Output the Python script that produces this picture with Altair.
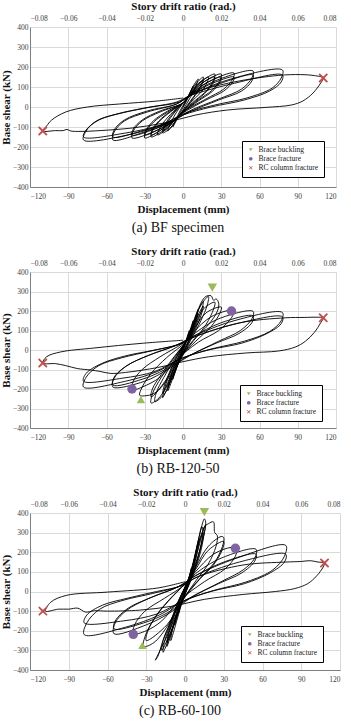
import altair as alt
import pandas as pd

# ---------------- data (displacement mm, base shear kN) -------------
a_cycles = [
    [(0, 0), (3, 40), (6, 80), (8, 105), (7, 90), (5, 60), (2, 20), (-2, -25), (-5, -65), (-8, -100), (-7, -85), (-5, -55), (-2, -15), (2, 30)],
    [(5, 65), (9, 115), (12, 140), (11, 120), (9, 85), (5, 40), (0, -15), (-5, -60), (-9, -100), (-12, -120), (-11, -100), (-9, -70), (-5, -25), (0, 20)],
    [(5, 60), (10, 115), (16, 150), (15, 125), (12, 85), (7, 40), (0, -20), (-5, -60), (-10, -105), (-16, -130), (-15, -110), (-12, -75), (-7, -30), (0, 20)],
    [(5, 55), (10, 105), (16, 135), (15, 115), (12, 80), (7, 35), (0, -25), (-6, -60), (-11, -100), (-16, -120), (-15, -100), (-12, -65), (-7, -25), (0, 20)],
    [(5, 55), (12, 115), (20, 150), (19, 125), (15, 80), (8, 35), (0, -20), (-6, -60), (-12, -105), (-20, -140), (-19, -115), (-15, -75), (-8, -25), (0, 20)],
    [(5, 55), (14, 125), (25, 165), (24, 135), (19, 85), (10, 35), (0, -20), (-6, -60), (-14, -110), (-25, -150), (-24, -120), (-19, -75), (-10, -25), (0, 20)],
    [(5, 55), (14, 115), (25, 150), (24, 125), (19, 80), (10, 30), (0, -25), (-7, -65), (-15, -105), (-25, -140), (-24, -112), (-19, -70), (-10, -22), (0, 20)],
    [(5, 55), (15, 120), (30, 165), (29, 135), (23, 85), (12, 35), (0, -25), (-6, -60), (-16, -110), (-30, -155), (-29, -125), (-23, -75), (-12, -25), (0, 20)],
    [(5, 55), (16, 110), (30, 150), (29, 125), (23, 78), (12, 30), (0, -28), (-7, -65), (-17, -105), (-30, -140), (-29, -115), (-23, -68), (-12, -20), (0, 20)],
    [(5, 55), (18, 120), (40, 170), (39, 140), (32, 90), (18, 40), (0, -25), (-6, -65), (-20, -115), (-40, -155), (-39, -120), (-32, -70), (-18, -25), (0, 20)],
    [(5, 55), (20, 110), (40, 150), (39, 125), (32, 80), (18, 35), (0, -30), (-8, -70), (-22, -110), (-40, -140), (-39, -110), (-32, -65), (-18, -20), (0, 20)],
    [(5, 55), (25, 130), (55, 180), (54, 145), (46, 90), (28, 40), (5, -20), (-8, -70), (-28, -120), (-55, -165), (-54, -125), (-46, -70), (-28, -25), (-5, 15)],
    [(5, 55), (28, 115), (55, 160), (54, 130), (46, 80), (28, 35), (5, -25), (-10, -75), (-30, -115), (-55, -150), (-54, -115), (-46, -65), (-28, -20), (-5, 15)],
    [(5, 55), (35, 135), (78, 185), (77, 145), (70, 95), (50, 45), (25, 10), (0, -35), (-15, -85), (-40, -135), (-78, -165), (-76, -120), (-68, -70), (-52, -35), (-30, -5), (-5, 25)],
    [(5, 55), (38, 115), (78, 160), (77, 125), (68, 80), (48, 35), (22, 0), (0, -40), (-18, -90), (-45, -130), (-78, -150), (-76, -115), (-66, -65), (-48, -30), (-25, 0), (-3, 25)],
    [(8, 70), (40, 125), (75, 158), (92, 162), (103, 157), (110, 145), (108, 120), (102, 70), (94, 30), (85, 10), (65, -2), (35, -15), (10, -40), (-15, -80), (-40, -105), (-65, -118), (-80, -122), (-88, -120), (-91, -112), (-94, -118), (-100, -118), (-110, -120), (-107, -95), (-103, -65), (-92, -25), (-75, 0), (-50, 15), (-20, 30), (0, 45)],
]

b_cycles = [
    [(0, 0), (3, 60), (5, 100), (4, 80), (2, 40), (-2, -30), (-5, -90), (-4, -70), (-2, -30), (2, 30)],
    [(5, 90), (8, 150), (7, 125), (4, 70), (0, 0), (-4, -70), (-8, -150), (-7, -120), (-4, -60), (0, 10)],
    [(5, 80), (9, 160), (12, 210), (11, 180), (8, 110), (3, 30), (-2, -40), (-6, -110), (-12, -210), (-11, -175), (-8, -110), (-3, -30), (2, 40)],
    [(5, 70), (9, 140), (12, 185), (11, 160), (8, 100), (3, 25), (-2, -40), (-6, -100), (-12, -190), (-11, -160), (-8, -100), (-3, -25), (2, 40)],
    [(6, 100), (11, 190), (16, 250), (15, 215), (11, 140), (5, 50), (-2, -40), (-7, -120), (-16, -245), (-15, -210), (-11, -130), (-5, -40), (2, 40)],
    [(6, 90), (11, 170), (16, 225), (15, 195), (11, 125), (5, 45), (-2, -40), (-7, -110), (-16, -225), (-15, -190), (-11, -120), (-5, -35), (2, 40)],
    [(7, 110), (13, 220), (20, 275), (19, 230), (14, 150), (6, 50), (-2, -50), (-8, -130), (-14, -220), (-22, -265), (-21, -220), (-15, -140), (-6, -40), (2, 40)],
    [(8, 120), (14, 240), (18, 275), (22, 278), (24, 255), (26, 262), (28, 240), (27, 200), (20, 130), (8, 50), (-3, -50), (-10, -140), (-18, -240), (-25, -272), (-24, -225), (-17, -140), (-7, -40), (2, 40)],
    [(8, 110), (16, 210), (25, 245), (24, 210), (18, 130), (8, 45), (-3, -50), (-12, -150), (-25, -240), (-24, -200), (-17, -125), (-7, -35), (2, 40)],
    [(8, 100), (18, 190), (30, 220), (29, 190), (22, 120), (10, 45), (-4, -50), (-12, -140), (-22, -220), (-30, -235), (-34, -232), (-32, -190), (-25, -120), (-13, -40), (2, 40)],
    [(8, 90), (22, 170), (38, 205), (40, 200), (38, 165), (28, 100), (12, 40), (-5, -50), (-18, -140), (-32, -190), (-40, -205), (-39, -160), (-32, -100), (-18, -35), (0, 35)],
    [(8, 80), (28, 160), (55, 198), (54, 160), (45, 100), (28, 45), (5, -30), (-12, -100), (-30, -160), (-55, -190), (-54, -145), (-45, -85), (-28, -30), (-5, 25)],
    [(8, 70), (30, 140), (55, 175), (54, 140), (44, 85), (26, 35), (3, -35), (-14, -100), (-32, -150), (-55, -180), (-54, -140), (-44, -80), (-26, -25), (-5, 25)],
    [(8, 70), (40, 150), (78, 192), (77, 150), (68, 95), (48, 45), (22, 5), (0, -40), (-20, -110), (-45, -160), (-78, -190), (-76, -140), (-66, -80), (-48, -40), (-25, -5), (-3, 30)],
    [(8, 65), (42, 135), (78, 170), (77, 135), (66, 85), (46, 35), (20, 0), (-2, -45), (-22, -110), (-48, -145), (-78, -160), (-76, -120), (-64, -70), (-45, -30), (-22, 0), (-2, 30)],
    [(10, 70), (45, 140), (80, 165), (95, 167), (105, 168), (110, 165), (108, 140), (103, 90), (96, 45), (88, 15), (75, -5), (50, -15), (20, -35), (0, -60), (-20, -90), (-45, -115), (-57, -120), (-65, -110), (-72, -103), (-83, -95), (-92, -80), (-100, -70), (-110, -67), (-107, -35), (-96, -10), (-70, 10), (-31, 35), (0, 50)],
]

c_cycles = [
    [(0, 0), (3, 70), (5, 120), (4, 90), (2, 40), (-2, -40), (-5, -110), (-4, -80), (-2, -30), (2, 40)],
    [(5, 110), (8, 180), (7, 140), (4, 70), (0, 0), (-4, -80), (-8, -170), (-7, -130), (-4, -60), (0, 10)],
    [(5, 100), (8, 190), (11, 270), (10, 220), (7, 130), (3, 40), (-2, -50), (-6, -140), (-11, -250), (-10, -200), (-7, -120), (-3, -30), (2, 50)],
    [(6, 130), (10, 250), (13, 330), (14, 310), (12, 220), (8, 130), (3, 40), (-3, -60), (-8, -160), (-14, -280), (-13, -230), (-9, -140), (-4, -40), (2, 50)],
    [(6, 120), (10, 230), (14, 300), (13, 260), (10, 170), (5, 70), (-3, -60), (-8, -150), (-14, -260), (-13, -215), (-9, -130), (-4, -35), (2, 50)],
    [(6, 140), (11, 280), (15, 370), (16, 355), (14, 270), (9, 160), (3, 50), (-3, -60), (-9, -180), (-17, -310), (-16, -260), (-11, -160), (-5, -50), (2, 50)],
    [(6, 130), (11, 260), (16, 340), (15, 300), (12, 200), (6, 80), (-3, -60), (-10, -190), (-18, -300), (-17, -250), (-11, -150), (-5, -45), (2, 50)],
    [(7, 140), (12, 260), (15, 330), (18, 345), (22, 355), (23, 300), (25, 285), (24, 230), (18, 140), (9, 60), (-3, -60), (-12, -200), (-20, -310), (-23, -350), (-21, -330), (-17, -250), (-10, -140), (-4, -40), (2, 50)],
    [(8, 120), (18, 230), (28, 280), (30, 275), (29, 230), (23, 150), (12, 70), (-3, -50), (-13, -170), (-24, -260), (-32, -280), (-31, -230), (-24, -140), (-13, -50), (0, 40)],
    [(8, 110), (18, 210), (30, 255), (29, 215), (22, 135), (11, 60), (-3, -55), (-14, -170), (-30, -250), (-29, -205), (-22, -120), (-12, -40), (0, 40)],
    [(8, 100), (22, 190), (36, 225), (40, 220), (39, 180), (31, 115), (15, 50), (-5, -50), (-18, -150), (-30, -200), (-40, -215), (-39, -170), (-31, -100), (-16, -35), (0, 35)],
    [(8, 90), (28, 170), (55, 215), (54, 170), (45, 110), (28, 50), (5, -30), (-12, -110), (-30, -170), (-55, -215), (-54, -160), (-45, -95), (-28, -35), (-5, 25)],
    [(8, 80), (30, 150), (55, 190), (54, 155), (44, 95), (26, 40), (3, -35), (-14, -110), (-32, -160), (-55, -190), (-54, -150), (-44, -85), (-26, -30), (-5, 25)],
    [(8, 80), (40, 170), (78, 235), (77, 180), (68, 110), (48, 50), (22, 5), (0, -45), (-20, -120), (-45, -180), (-78, -220), (-76, -160), (-66, -90), (-48, -45), (-25, -10), (-3, 30)],
    [(8, 70), (42, 150), (78, 190), (77, 150), (66, 95), (46, 40), (20, 0), (-2, -50), (-22, -115), (-48, -150), (-78, -160), (-76, -120), (-64, -70), (-45, -35), (-22, 0), (-2, 30)],
    [(10, 75), (45, 135), (78, 150), (90, 153), (97, 157), (103, 150), (108, 145), (107, 125), (102, 80), (95, 40), (85, 15), (70, 0), (45, -15), (15, -40), (-10, -75), (-35, -95), (-60, -100), (-70, -98), (-77, -105), (-83, -85), (-90, -90), (-98, -90), (-108, -100), (-104, -55), (-92, -20), (-60, -3), (-21, 18), (0, 50)],
]

events = ["Brace buckling", "Brace fracture", "RC column fracture"]
event_colors = ["#9bbb59", "#8064a2", "#c0504d"]

a_marks = [("RC column fracture", 110, 145), ("RC column fracture", -110, -120)]
b_marks = [("Brace buckling", 23, 320), ("Brace fracture", 38, 200), ("RC column fracture", 110, 165),
           ("Brace fracture", -40, -200), ("RC column fracture", -110, -67)]
c_marks = [("Brace buckling", 15, 405), ("Brace fracture", 39, 220), ("RC column fracture", 108, 145),
           ("Brace fracture", -40, -218), ("RC column fracture", -110, -100)]
b_up = [(-33, -255)]
c_up = [(-33, -275)]

x_ticks = [-120, -90, -60, -30, 0, 30, 60, 90, 120]
y_ticks = [-400, -300, -200, -100, 0, 100, 200, 300, 400]

SERIF = "Liberation Serif"
X_PATH = "M-0.75,-1L0,-0.3L0.75,-1L1,-0.75L0.3,0L1,0.75L0.75,1L0,0.3L-0.75,1L-1,0.75L-0.3,0L-1,-0.75Z"
FONT_AX = dict(labelFont=SERIF, labelFontSize=7.5, labelColor="#404040", titleFont=SERIF, titleFontSize=11,
               titleFontWeight="bold", titleColor="#111")


def panel(cycles, marks, ups, w, h, caption, lx, ly):
    pts = [p for cyc in cycles for p in cyc]
    df = pd.DataFrame(pts, columns=["x", "y"])
    df["i"] = range(len(df))
    xs = alt.Scale(domain=[-120, 120], nice=False, zero=False)
    ys = alt.Scale(domain=[-400, 400], nice=False)
    yaxis = alt.Axis(values=y_ticks, title="Base shear (kN)", ticks=False, labelPadding=2,
                     titlePadding=1, domainColor="#7f7f7f", gridColor="#d9d9d9", **FONT_AX)
    lines = alt.Chart(df).mark_line(color="black", strokeWidth=0.9, interpolate="catmull-rom").encode(
        x=alt.X("x:Q", scale=xs, axis=alt.Axis(values=x_ticks, title="Displacement (mm)", ticks=False,
                                                labelPadding=5, titlePadding=4, domainColor="#7f7f7f",
                                                gridColor="#d9d9d9", **FONT_AX)),
        y=alt.Y("y:Q", scale=ys, axis=yaxis),
        order="i:Q",
    )
    top = alt.Chart(pd.DataFrame({"x": x_ticks})).mark_point(opacity=0).encode(
        x=alt.X("x:Q", scale=xs, axis=alt.Axis(orient="top", values=x_ticks, title="Story drift ratio (rad.)",
                                                ticks=False, domain=False, grid=False, labelPadding=5,
                                                titlePadding=3,
                                                labelExpr="datum.value == 0 ? '0' : format(datum.value / 1500, '.2f')",
                                                **FONT_AX)),
        y=alt.value(0),
    )
    mdf = pd.DataFrame(marks, columns=["event", "x", "y"])
    leg = alt.Legend(title=None, orient="none", legendX=lx, legendY=ly, strokeColor="black",
                     fillColor="white", padding=5, labelFont=SERIF, labelFontSize=7.5, labelColor="#222",
                     symbolSize=14, rowPadding=0, labelLimit=200)
    pmarks = alt.Chart(mdf).mark_point(filled=True, opacity=1, size=90).encode(
        x=alt.X("x:Q", scale=xs, axis=None),
        y=alt.Y("y:Q", scale=ys, axis=yaxis),
        color=alt.Color("event:N", scale=alt.Scale(domain=events, range=event_colors), legend=leg),
        shape=alt.Shape("event:N", scale=alt.Scale(domain=events, range=["triangle-down", "circle", X_PATH]),
                        legend=leg),
    )
    layers = [lines, top, pmarks]
    if ups:
        udf = pd.DataFrame(ups, columns=["x", "y"])
        layers.append(alt.Chart(udf).mark_point(filled=True, opacity=1, size=70, shape="triangle-up",
                                                color="#9bbb59").encode(
            x=alt.X("x:Q", scale=xs, axis=None),
            y=alt.Y("y:Q", scale=ys, axis=yaxis),
        ))
    return alt.layer(*layers).resolve_scale(x="independent").properties(
        width=w, height=h,
        title=alt.TitleParams(text=caption, orient="bottom", font=SERIF, fontSize=14, fontWeight="normal",
                              offset=6, anchor="middle", color="#111", dx=-5),
    )


pa = panel(a_cycles, a_marks, [], 306, 160, "(a) BF specimen", 212, 114)
pb = panel(b_cycles, b_marks, b_up, 306, 156, "(b) RB-120-50", 210, 113)
pc = panel(c_cycles, c_marks, c_up, 310, 157, "(c) RB-60-100", 211, 113)

chart = alt.vconcat(pa, pb, pc, spacing=10).resolve_scale(
    color="independent", shape="independent"
).configure_view(strokeWidth=0).properties(padding={"left": 0, "top": 0, "right": 0, "bottom": 0})

chart.save("out.html", embed_options={"renderer": "svg", "actions": False})
